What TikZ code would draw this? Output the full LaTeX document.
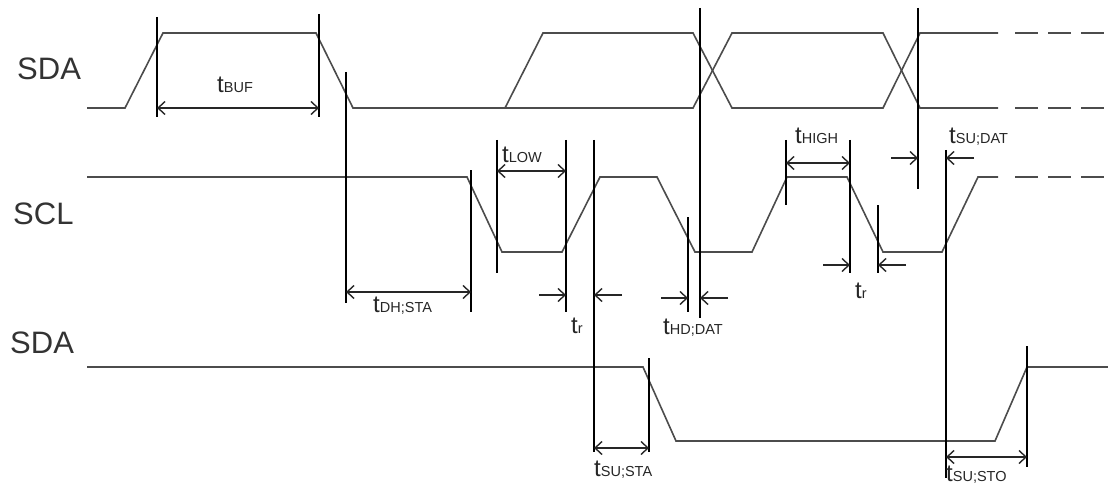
\documentclass[tikz,border=0pt]{standalone}
\usepackage{fontspec}
\setmainfont{Liberation Sans}
\usetikzlibrary{arrows.meta}
\newcommand{\tlab}[1]{{\fontsize{24}{24}\selectfont t}{\fontsize{14.5}{14.5}\selectfont #1}}

\begin{document}
\begin{tikzpicture}[x=1pt,y=-1pt,>={Straight Barb[length=7pt,width=13pt]},
		sig/.style={line width=1.6pt,black!70},
		vline/.style={line width=1.5pt},
		dim/.style={line width=1.4pt,black!85}]
		\useasboundingbox (0,0) rectangle (1108,484);
		% signal names
		\foreach \n/\x/\y/\s in {sdaa/17/80/SDA, scl/13/224/SCL, sdab/10/353/SDA}
		\node[anchor=base west,inner sep=0pt,text=black!80,font=\fontsize{31}{31}\selectfont] (\n) at (\x,\y) {\s};
		% SDA (top)
		\draw[sig] (87,108) -- (125,108) -- (163,33) -- (316,33) -- (353,108) -- (693,108) -- (732,33) -- (883,33) -- (920,108) -- (998,108);
		\draw[sig] (505,108) -- (543,33) -- (693,33) -- (732,108) -- (883,108) -- (920,33) -- (998,33);
		% SCL
		\draw[sig] (87,177) -- (467,177) -- (502,252) -- (562,252) -- (600,177) -- (657,177) -- (695,252) -- (752,252) -- (787,177) -- (847,177) -- (883,252) -- (942,252) -- (978,177) -- (998,177);
		% SDA (bottom)
		\draw[sig] (87,367) -- (643,367) -- (676,441) -- (995,441) -- (1027,367) -- (1108,367);
		\foreach \y in {33,108,177}
		\draw[sig,line width=2pt,dash pattern=on 23pt off 10pt] (1015,\y) -- (1108,\y);
		% markers
		\foreach \x/\a/\b in
		{
		157/17/117,
		319/14/117,
		346/72/303,
		471/170/312,
		497/140/273,
		566/140/312,
		594/140/452,
		649/358/452,
		688/217/312,
		700/8/318,
		786/140/205,
		850/140/273,
		878/205/273,
		918/8/189,
		946/150/478,
		1027/346/467
		}
		\draw[vline] (\x,\a) -- (\x,\b);
		% dimensions between markers
		\foreach \a/\b/\y in {157/319/108, 346/471/292, 497/566/171, 786/850/163, 594/649/448, 946/1027/457}
		\draw[dim,<->] (\a,\y) -- (\b,\y);
		% dimensions from outside
		\foreach \a/\b/\y in {566/594/295, 688/700/298, 850/878/265, 918/946/158}
		{
		\draw[dim,->] (\a-27,\y) -- (\a,\y);
		\draw[dim,->] (\b+28,\y) -- (\b,\y);
		}
		% labels
		\foreach \n/\x/\y/\s in
		{
		buf/217/93/{BUF},
		low/502/162/{LOW},
		dhsta/373/312/{DH;STA},
		ra/571/333/{r},
		hddat/663/334/{HD;DAT},
		high/795/143/{HIGH},
		sudat/949/143/{SU;DAT},
		rb/855/298/{r},
		susta/594/476/{SU;STA},
		susto/946/481/{SU;STO}
		}
		\node[anchor=base west,inner sep=0pt,text=black!85] (t\n) at (\x,\y) {\tlab{\s}};
	\end{tikzpicture}
\end{document}
